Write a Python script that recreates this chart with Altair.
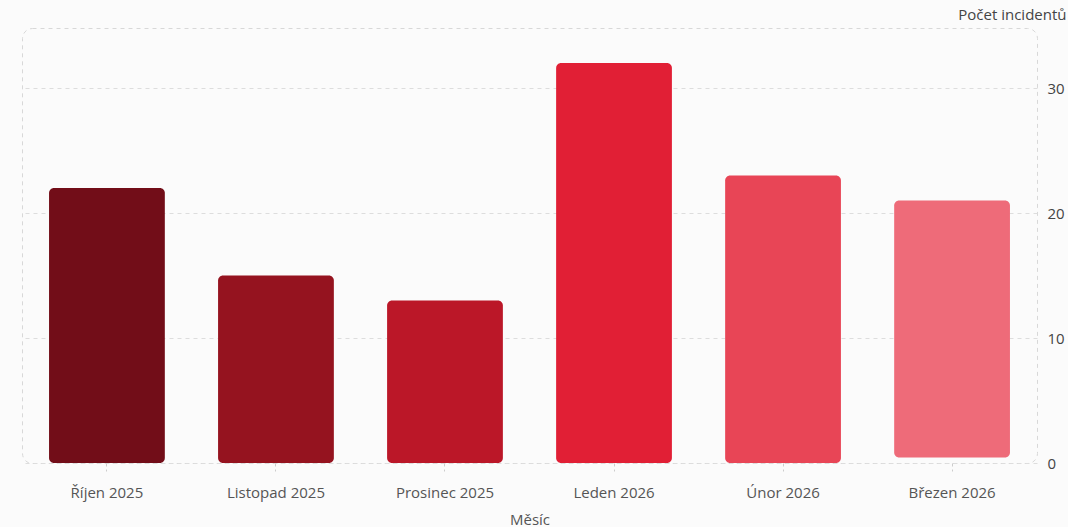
import altair as alt
import pandas as pd

months = ["Říjen 2025", "Listopad 2025", "Prosinec 2025", "Leden 2026", "Únor 2026", "Březen 2026"]
incidents = [22, 15, 13, 32, 23, 21]
base = [0, 0, 0, 0, 0, 0.45]
colors = ["#720d18", "#95131f", "#bb1728", "#e11f35", "#e84556", "#ee6b79"]

df = pd.DataFrame({"Měsíc": months, "Počet incidentů": incidents, "base": base})

font = "Open Sans"

chart = alt.Chart(df).mark_bar(cornerRadius=5).encode(
    x=alt.X("Měsíc:N", sort=months,
            scale=alt.Scale(paddingInner=0.315, paddingOuter=0.16),
            axis=alt.Axis(title="Měsíc", labelAngle=0, domain=False, grid=False,
                          ticks=True, tickSize=8, tickDash=[3, 3], tickColor="#cccccc",
                          labelPadding=14, labelFontSize=15, labelColor="#555555",
                          labelFont=font, titleFont=font, titleFontSize=15,
                          titleFontWeight="normal", titleColor="#555555", titlePadding=12)),
    y=alt.Y("Počet incidentů:Q",
            scale=alt.Scale(domain=[0, 34.8], nice=False),
            axis=alt.Axis(orient="right", values=[0, 10, 20, 30], domain=False, ticks=False,
                          grid=True, gridDash=[4, 4], gridColor="#dddddd",
                          labelPadding=10, labelFontSize=15, labelColor="#444444", labelFont=font,
                          title="Počet incidentů", titleAngle=0, titleAlign="right",
                          titleBaseline="alphabetic", titleX=29, titleY=-9,
                          titleFont=font, titleFontSize=15, titleFontWeight="normal",
                          titleColor="#444444")),
    y2="base:Q",
    color=alt.Color("Měsíc:N", sort=months, scale=alt.Scale(domain=months, range=colors), legend=None),
).properties(
    width=1015, height=435,
    autosize=alt.AutoSizeParams(type="none"),
    padding={"left": 22, "top": 28, "right": 31, "bottom": 64},
    background="#fbfbfb",
).configure_view(
    stroke="#d8d8d8", strokeDash=[4, 4], strokeWidth=1, cornerRadius=10,
)

chart.save("out.html", embed_options={"renderer": "svg", "actions": False})
